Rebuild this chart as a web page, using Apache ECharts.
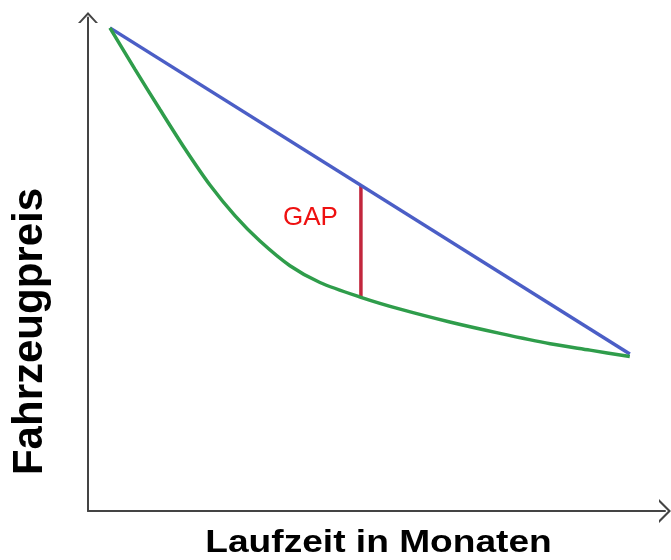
<!DOCTYPE html>
<html>
<head>
<meta charset="utf-8">
<script src="https://cdn.jsdelivr.net/npm/echarts@6/dist/echarts.min.js"></script>
<style>
html,body{margin:0;padding:0;background:#fff;}
#chart{width:671px;height:560px;}
</style>
</head>
<body>
<div id="chart"></div>
<script>
// Data (abstract units: months on x, price index on y)
var xAxisTitle = 'Laufzeit in Monaten';
var yAxisTitle = 'Fahrzeugpreis';
var gapLabel = 'GAP';

var blueX = [3.8, 93.9];
var blueY = [97.9, 31.8];

var greenX = [3.8, 8.15, 12.5, 16.8, 21.1, 25.5, 29.8, 35.0, 40.2, 47.3, 54.1, 62.7, 71.4, 80.1, 87.0, 93.9];
var greenY = [97.9, 89.5, 81.3, 73.4, 66.1, 59.8, 54.7, 49.7, 46.3, 43.3, 40.9, 38.3, 36.0, 33.9, 32.6, 31.3];

var gapX = [47.3, 47.3];
var gapY = [43.3, 66.0];

function zip(a, b) { return a.map(function (v, i) { return [v, b[i]]; }); }

var chart = echarts.init(document.getElementById('chart'), null, {renderer: 'canvas'});
var font = '"Liberation Sans", Arial, Helvetica, sans-serif';
var axisColor = '#444444';

chart.setOption({
  animation: false,
  backgroundColor: '#ffffff',
  grid: {left: 88, right: 6, top: 17.5, bottom: 49, containLabel: false},
  xAxis: {
    type: 'value', min: 0, max: 100,
    axisLine: {show: true, lineStyle: {color: axisColor, width: 2},
      symbol: ['none', 'path://M0,12 L12,0 L24,12 L21,12 L12,3 L3,12 Z'],
      symbolSize: [24, 12]},
    axisTick: {show: false}, axisLabel: {show: false}, splitLine: {show: false}
  },
  yAxis: {
    type: 'value', min: 0, max: 100,
    axisLine: {show: true, lineStyle: {color: axisColor, width: 2},
      symbol: ['none', 'path://M0,11 L10,0 L20,11 L17.5,11 L10,3 L2.5,11 Z'],
      symbolSize: [20, 11]},
    axisTick: {show: false}, axisLabel: {show: false}, splitLine: {show: false}
  },
  series: [
    {
      type: 'line', data: zip(blueX, blueY), showSymbol: false,
      lineStyle: {color: '#4b5ec6', width: 3.5}, z: 3
    },
    {
      type: 'line', data: zip(greenX, greenY), showSymbol: false, smooth: 0.3,
      lineStyle: {color: '#2f9d4b', width: 3.5}, z: 3
    },
    {
      type: 'line', data: zip(gapX, gapY), showSymbol: false,
      lineStyle: {color: '#c2263c', width: 3.5}, z: 2
    }
  ],
  graphic: [
    {
      type: 'text', x: 283, y: 218,
      style: {text: gapLabel, fill: '#ee1111', font: '26px ' + font, textAlign: 'left', textVerticalAlign: 'middle', verticalAlign: 'middle'}
    },
    {
      type: 'text', x: 378.5, y: 543, scaleX: 1.16,
      style: {text: xAxisTitle, fill: '#000', font: 'bold 32px ' + font, textAlign: 'center', textVerticalAlign: 'middle', verticalAlign: 'middle'}
    },
    {
      type: 'text', x: 30.5, y: 331.5, rotation: Math.PI / 2,
      style: {text: yAxisTitle, fill: '#000', font: 'bold 42px ' + font, textAlign: 'center', textVerticalAlign: 'middle', verticalAlign: 'middle'}
    }
  ]
});
</script>
</body>
</html>
